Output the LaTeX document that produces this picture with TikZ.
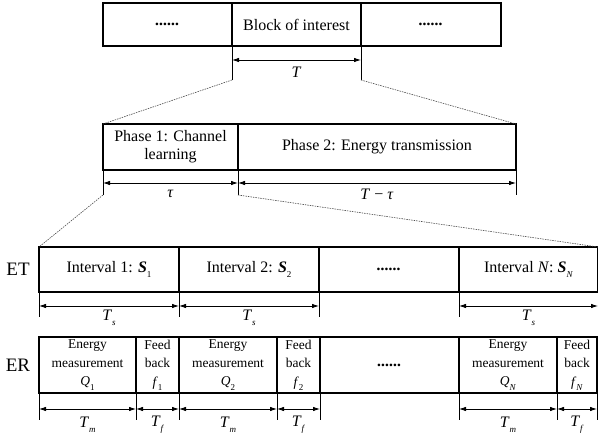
\documentclass[tikz,border=0pt]{standalone}
\usepackage{fontspec}
\setmainfont{Liberation Serif}
\usetikzlibrary{arrows.meta,calc}
\newcommand{\sbx}[1]{\raisebox{-0.32em}{\fontsize{9}{9}\selectfont #1}}
\newcommand{\dotsx}{\textbf{\textit{......}}}
\begin{document}
\begin{tikzpicture}[x=1pt,y=-1pt,
  box/.style={draw, line width=1.8pt, inner sep=0pt, outer sep=0pt, anchor=north west, align=center, font=\fontsize{16}{19}\selectfont},
  erbox/.style={box, font=\fontsize{13.5}{18.5}\selectfont},
  dim/.style={{Latex[length=7pt,width=4.5pt]}-{Latex[length=7pt,width=4.5pt]}, line width=0.8pt},
  tick/.style={line width=0.6pt},
  guide/.style={dash pattern=on 1.5pt off 1pt, line width=0.6pt, black!70},
  lab/.style={font=\fontsize{16}{19}\selectfont, inner sep=0pt},
  side/.style={font=\fontsize{19}{22}\selectfont, inner sep=0pt}]
\useasboundingbox (0,0) rectangle (598,436);

% top row
\node[box, minimum width=129pt, minimum height=43pt] (t1) at (103,3) {\dotsx};
\node[box, minimum width=129pt, minimum height=43pt] (t2) at (232,3) {Block of interest};
\node[box, minimum width=140pt, minimum height=43pt] (t3) at (361,3) {\dotsx};
\draw[tick] (t2.south west) -- ++(0,34) coordinate (tl);
\draw[tick] (t2.south east) -- ++(0,34) coordinate (tr);
\draw[dim] ($(t2.south west)+(0,14)$) -- ($(t2.south east)+(0,14)$) node[lab, midway, yshift=-12pt] (lT) {\textit{T}};

% phase row
\node[box, minimum width=135pt, minimum height=46pt, font=\fontsize{16}{18}\selectfont] (p1) at (103,124) {Phase 1: Channel\\learning};
\node[box, minimum width=278pt, minimum height=46pt] (p2) at (238,124) {Phase 2: Energy transmission};
\draw[guide] (tl) -- (p1.north west);
\draw[guide] (tr) -- (p2.north east);
\draw[tick] (p1.south west) -- ++(0,25) coordinate (pl);
\draw[tick] (p2.south west) -- ++(0,25) coordinate (pm);
\draw[tick] (p2.south east) -- ++(0,25) coordinate (pr);
\draw[dim] ($(p1.south west)+(0,13)$) -- ($(p1.south east)+(0,13)$) node[lab, midway, yshift=-11pt] (ltau) {\textit{τ}};
\draw[dim] ($(p2.south west)+(0,13)$) -- ($(p2.south east)+(0,13)$) node[lab, midway, yshift=-11pt] (lTt) {\textit{T} − \textit{τ}};

% ET row
\node[side] (ET) at (18,269) {ET};
\node[box, minimum width=140pt, minimum height=45pt] (e1) at (39,247) {Interval 1: \textbf{\textit{S}}\sbx{1}};
\node[box, minimum width=140pt, minimum height=45pt] (e2) at (179,247) {Interval 2: \textbf{\textit{S}}\sbx{2}};
\node[box, minimum width=140pt, minimum height=45pt] (e3) at (319,247) {\dotsx};
\node[box, minimum width=139pt, minimum height=45pt] (e4) at (459,247) {Interval \textit{N}: \textbf{\textit{S}}\sbx{\textit{N}}};
\draw[guide] (pl) -- (e1.north west);
\draw[guide] (pm) -- (e4.north east);
\foreach \n/\a in {e1/south west, e2/south west, e3/south west, e4/south west, e4/south east}
  \draw[tick] (\n.\a) -- ++(0,25);
\foreach \n in {e1,e2,e4}
  \draw[dim] ($(\n.south west)+(0,14)$) -- ($(\n.south east)+(0,14)$) node[lab, midway, yshift=-12pt] {\textit{T}\sbx{\textit{s}}};

% ER row
\node[side] (ER) at (18,365) {ER};
\node[erbox, minimum width=97pt, minimum height=56pt] (r1) at (39,337) {Energy\\measurement\\\textit{Q}\sbx{1}};
\node[erbox, minimum width=43pt, minimum height=56pt] (r2) at (136,337) {Feed\\back\\\textit{f}\sbx{1}};
\node[erbox, minimum width=98pt, minimum height=56pt] (r3) at (179,337) {Energy\\measurement\\\textit{Q}\sbx{2}};
\node[erbox, minimum width=43pt, minimum height=56pt] (r4) at (277,337) {Feed\\back\\\textit{f}\sbx{2}};
\node[box, minimum width=139pt, minimum height=56pt] (r5) at (320,337) {\dotsx};
\node[erbox, minimum width=98pt, minimum height=56pt] (r6) at (459,337) {Energy\\measurement\\\textit{Q}\sbx{\textit{N}}};
\node[erbox, minimum width=40pt, minimum height=56pt] (r7) at (557,337) {Feed\\back\\\textit{f}\sbx{\textit{N}}};
\foreach \n/\a in {r1/south west, r2/south west, r3/south west, r4/south west, r5/south west, r6/south west, r7/south west, r7/south east}
  \draw[tick] (\n.\a) -- ++(0,27);
\foreach \n/\s in {r1/m, r2/f, r3/m, r4/f, r6/m, r7/f}
  \draw[dim] ($(\n.south west)+(0,16)$) -- ($(\n.south east)+(0,16)$) node[lab, midway, yshift=-16pt] {\textit{T}\sbx{\textit{\s}}};
\end{tikzpicture}
\end{document}
